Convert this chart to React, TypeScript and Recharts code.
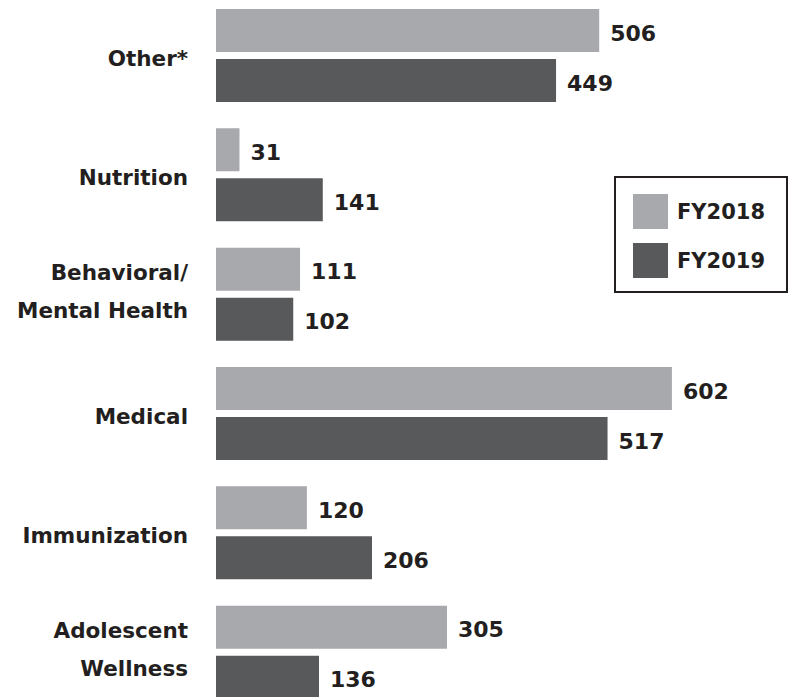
import { Bar, BarChart, LabelList, Legend, XAxis, YAxis } from 'recharts';

const categories = ['Other*', 'Nutrition', 'Behavioral/\nMental Health', 'Medical', 'Immunization', 'Adolescent\nWellness'];
const fy2018 = [506, 31, 111, 602, 120, 305];
const fy2019 = [449, 141, 102, 517, 206, 136];
const seriesNames = ['FY2018', 'FY2019'];
const xMax = 750;

const data = categories.map((category, i) => ({ category, fy2018: fy2018[i], fy2019: fy2019[i] }));

const FONT = '"DejaVu Sans", sans-serif';
const INK = '#231f20';
const LIGHT = '#a7a9ac';
const DARK = '#58595b';

function CategoryTick({ x, y, payload }: any) {
  const lines = String(payload.value).split('\n');
  const first = lines.length > 1 ? -14 : 10;
  const gap = 38;
  return (
    <text x={x} y={y} textAnchor="end" fill={INK} fontFamily={FONT} fontWeight="bold" fontSize={21.5}>
      {lines.map((ln, i) => (
        <tspan key={i} x={x} y={y + first + i * gap}>
          {ln}
        </tspan>
      ))}
    </text>
  );
}

function ValueLabel({ x, y, width, height, value }: any) {
  return (
    <text
      x={Number(x) + Number(width) + 11}
      y={Number(y) + Number(height) / 2 + 10}
      fill={INK}
      fontFamily={FONT}
      fontWeight="bold"
      fontSize={22}
    >
      {value}
    </text>
  );
}

function LegendBox({ payload }: any) {
  return (
    <div
      style={{
        boxSizing: 'border-box',
        width: 174,
        height: 117,
        border: `2px solid ${INK}`,
        padding: '16px 0 0 17px',
        background: '#fff',
      }}
    >
      {(payload || []).map((p: any) => (
        <div key={p.value} style={{ display: 'flex', alignItems: 'center', height: 35, marginBottom: 14 }}>
          <div style={{ width: 35, height: 35, background: p.color, marginRight: 9 }} />
          <span style={{ fontFamily: FONT, fontWeight: 'bold', fontSize: 21, color: INK }}>{p.value}</span>
        </div>
      ))}
    </div>
  );
}

export default function App() {
  return (
    <div style={{ position: 'fixed', left: 0, top: 0, width: 796, height: 697, overflow: 'hidden', background: '#fff' }}>
      <div style={{ position: 'absolute', left: 0, top: -4 }}>
        <BarChart
          width={796}
          height={716}
          data={data}
          layout="vertical"
          margin={{ top: 0, right: 12, bottom: 0, left: 0 }}
          barCategoryGap={13}
          barGap={7}
        >
          <XAxis type="number" domain={[0, xMax]} hide />
          <YAxis
            type="category"
            dataKey="category"
            width={216}
            interval={0}
            tickLine={false}
            axisLine={false}
            tickMargin={22}
            tick={<CategoryTick />}
          />
          <Legend
            layout="vertical"
            align="center"
            verticalAlign="middle"
            content={<LegendBox />}
            wrapperStyle={{ position: 'absolute', left: 614, top: 180, width: 174, height: 117 }}
          />
          <Bar dataKey="fy2018" name={seriesNames[0]} fill={LIGHT} isAnimationActive={false}>
            <LabelList dataKey="fy2018" content={<ValueLabel />} />
          </Bar>
          <Bar dataKey="fy2019" name={seriesNames[1]} fill={DARK} isAnimationActive={false}>
            <LabelList dataKey="fy2019" content={<ValueLabel />} />
          </Bar>
        </BarChart>
      </div>
    </div>
  );
}
